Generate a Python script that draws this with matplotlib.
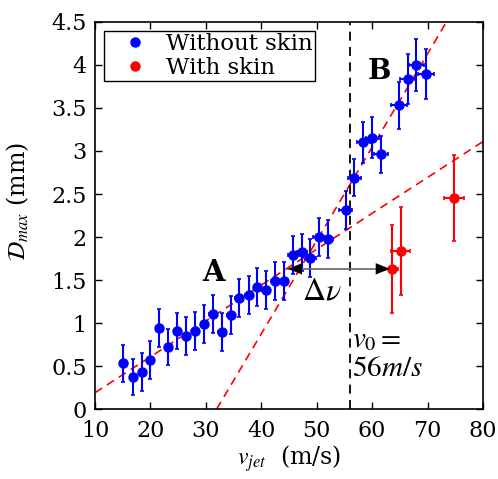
#!/usr/bin/env python3

import matplotlib
matplotlib.use("Agg")
import matplotlib.pyplot as plt
from matplotlib.lines import Line2D

plt.rcParams["font.family"] = ["DejaVu Serif"]
plt.rcParams["mathtext.fontset"] = "stix"

# -----------------------------------------------------------------------------
# data
# -----------------------------------------------------------------------------

# without skin
v_bare = [15.1, 16.8, 18.4, 20.0, 21.6, 23.2, 24.85, 26.4, 28.0, 29.7, 31.2,
          32.85, 34.5, 36.0, 37.7, 39.3, 40.85, 42.5, 44.1, 45.7, 47.3, 48.8,
          50.4, 52.0, 55.2, 56.8, 58.4, 60.0, 61.6, 64.8, 66.4, 68.0, 69.7]
D_bare = [0.53, 0.375, 0.43, 0.57, 0.945, 0.72, 0.91, 0.85, 0.91, 0.99, 1.10,
          0.895, 1.09, 1.29, 1.33, 1.415, 1.38, 1.49, 1.49, 1.79, 1.82, 1.76,
          2.0, 1.98, 2.31, 2.69, 3.10, 3.155, 2.96, 3.53, 3.84, 4.0, 3.90]
D_bare_err = [0.22, 0.21, 0.22, 0.22, 0.22, 0.21, 0.21, 0.22, 0.22, 0.22, 0.22,
              0.22, 0.22, 0.22, 0.22, 0.22, 0.22, 0.22, 0.22, 0.22, 0.22, 0.22,
              0.22, 0.22, 0.22, 0.215, 0.235, 0.24, 0.22, 0.27, 0.29, 0.3, 0.29]
v_bare_err = [0.4, 0.4, 0.4, 0.4, 0.5, 0.5, 0.5, 0.5, 0.5, 0.6, 0.6,
              0.6, 0.6, 0.7, 0.7, 0.7, 0.7, 0.8, 0.8, 0.9, 0.9, 1.0,
              1.0, 1.0, 1.1, 1.2, 1.2, 1.2, 1.3, 1.4, 1.4, 1.4, 1.5]

# with skin
v_skin = [63.5, 65.15, 74.8]
D_skin = [1.63, 1.84, 2.45]
D_skin_err = [0.51, 0.51, 0.5]
v_skin_err = [1.2, 1.7, 1.8]

# fitted regimes A and B
fit_A_v = [10, 80]
fit_A_D = [0.19, 3.11]
fit_B_v = [31.95, 73.4]
fit_B_D = [0.0, 4.5]

v0 = 56
dv_start, dv_end, dv_level = 63.2, 44.8, 1.63

# -----------------------------------------------------------------------------
# plot
# -----------------------------------------------------------------------------

fig = plt.figure(figsize=(4.98, 4.79), dpi=100)
ax = fig.add_axes([0.1908, 0.1461, 0.7791, 0.808])

ax.plot(fit_A_v, fit_A_D, "--", color="red", lw=1.2, dashes=(5, 3.5))
ax.plot(fit_B_v, fit_B_D, "--", color="red", lw=1.2, dashes=(5, 3.5))
ax.axvline(v0, color="black", ls="--", lw=1.3, dashes=(5, 3.5))

ax.errorbar(v_bare, D_bare, yerr=D_bare_err, xerr=v_bare_err, fmt="o",
            color="blue", ms=6.5, elinewidth=1.5, capsize=1.5, capthick=1.2)
ax.errorbar(v_skin, D_skin, yerr=D_skin_err, xerr=v_skin_err, fmt="o",
            color="red", ms=6.5, elinewidth=1.5, capsize=1.5, capthick=1.2)

ax.plot([dv_end, dv_start], [dv_level, dv_level], color="0.4", lw=1.2)
for tip, tail in [(dv_end, dv_end + 2.5), (dv_start, dv_start - 2.5)]:
    ax.annotate("", xy=(tip, dv_level), xytext=(tail, dv_level),
                arrowprops=dict(arrowstyle="-|>,head_length=1.0,head_width=0.4",
                                color="black", lw=0.1, shrinkA=0, shrinkB=0))

ax.text(31.3, 1.59, "A", fontsize=21, fontweight="bold", ha="center", va="center")
ax.text(61.35, 3.92, "B", fontsize=20, fontweight="bold", ha="center", va="center")
ax.text(50.9, 1.37, r"$\Delta\nu$", fontsize=23, ha="center", va="center")
ax.text(56.4, 0.724, r"$v_0 =$", fontsize=21, ha="left", va="baseline")
ax.text(56.4, 0.384, r"$56m/s$", fontsize=21, ha="left", va="baseline")

ax.set_xlim(10, 80)
ax.set_ylim(0, 4.5)
ax.set_xticks(range(10, 81, 10))
ax.set_yticks([0, 0.5, 1, 1.5, 2, 2.5, 3, 3.5, 4, 4.5])
ax.set_yticklabels(["0", "0.5", "1", "1.5", "2", "2.5", "3", "3.5", "4", "4.5"])
ax.tick_params(direction="in", top=True, right=True, length=5, width=1,
               labelsize=16)
ax.tick_params(axis="x", pad=8)
ax.tick_params(axis="y", pad=6)
for s in ax.spines.values():
    s.set_linewidth(1.2)

ax.set_xlabel(r"$v_{jet}$  (m/s)", fontsize=17, labelpad=1)
ax.set_ylabel(r"$\mathcal{D}_{max}$ (mm)", fontsize=17)
ax.yaxis.set_label_coords(-0.165, 0.537)

handles = [Line2D([], [], ls="", marker="o", color="blue", ms=6.5),
           Line2D([], [], ls="", marker="o", color="red", ms=6.5)]
leg = ax.legend(handles, ["Without skin", "With skin"], loc="upper left",
                fontsize=16.5, frameon=True, fancybox=False, framealpha=1,
                borderpad=0.1, labelspacing=0.05, handletextpad=0.1,
                borderaxespad=0.4, handlelength=2.5)
leg.get_frame().set_edgecolor("black")
leg.get_frame().set_linewidth(1.0)

fig.savefig("out.png", dpi=100)
